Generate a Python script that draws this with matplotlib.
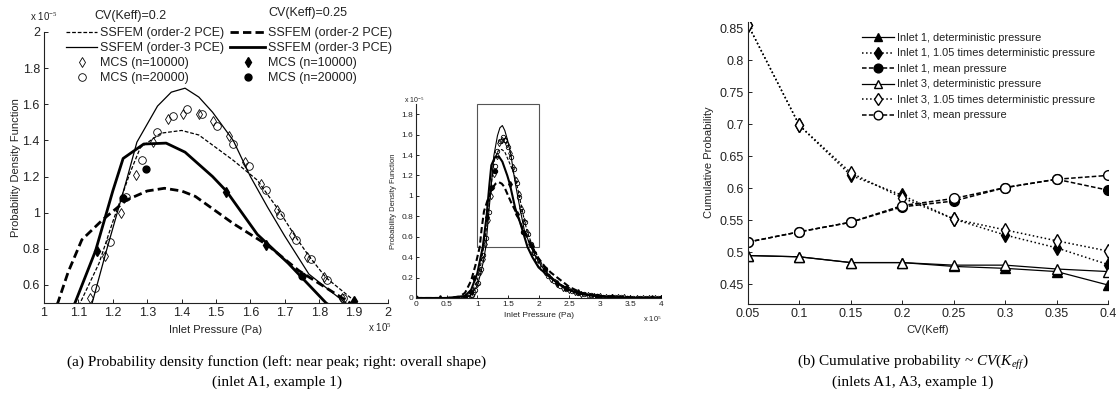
import numpy as np
import matplotlib
matplotlib.use("Agg")
import matplotlib.pyplot as plt
from matplotlib.patches import Rectangle
from matplotlib.lines import Line2D

plt.rcParams['font.family'] = ['Liberation Sans', 'DejaVu Sans']
plt.rcParams['mathtext.fontset'] = 'custom'
plt.rcParams['mathtext.rm'] = 'Liberation Serif'
plt.rcParams['mathtext.it'] = 'Liberation Serif:italic'

# ---- PDF data (pressure in 1e5 Pa, density in 1e-5) ----
# SSFEM, CV(Keff)=0.2
ord2_cv20_x = [0, 0.5, 0.8, 0.9, 1.0, 1.05, 1.1, 1.16, 1.2, 1.25, 1.28, 1.34, 1.4, 1.45, 1.55, 1.62,
               1.68, 1.73, 1.77, 1.82, 1.91, 2.0, 2.1, 2.2, 2.4, 2.6, 2.8, 3.0, 3.5, 4.0]
ord2_cv20_y = [0, 0, 0.01, 0.05, 0.17, 0.3, 0.48, 0.72, 0.95, 1.22, 1.36, 1.44, 1.455, 1.43, 1.29, 1.18,
               1.02, 0.87, 0.76, 0.64, 0.50, 0.39, 0.29, 0.21, 0.11, 0.05, 0.025, 0.012, 0.003, 0]
ord3_cv20_x = [0, 0.5, 0.8, 0.9, 1.0, 1.06, 1.1, 1.14, 1.18, 1.24, 1.27, 1.33, 1.37, 1.41, 1.45, 1.49,
               1.55, 1.6, 1.65, 1.7, 1.77, 1.87, 1.95, 2.05, 2.2, 2.4, 2.6, 2.8, 3.0, 3.5, 4.0]
ord3_cv20_y = [0, 0, 0.0, 0.03, 0.12, 0.25, 0.36, 0.5, 0.78, 1.18, 1.39, 1.59, 1.667, 1.689, 1.64, 1.556,
               1.40, 1.20, 1.03, 0.87, 0.66, 0.51, 0.41, 0.31, 0.2, 0.1, 0.05, 0.025, 0.012, 0.003, 0]
# SSFEM, CV(Keff)=0.25
ord2_cv25_x = [0, 0.5, 0.7, 0.8, 0.9, 0.97, 1.04, 1.07, 1.11, 1.17, 1.24, 1.3, 1.35, 1.4, 1.44, 1.55,
               1.65, 1.74, 1.89, 2.0, 2.1, 2.2, 2.35, 2.5, 2.7, 3.0, 3.5, 4.0]
ord2_cv25_y = [0, 0, 0.01, 0.05, 0.17, 0.32, 0.5, 0.67, 0.85, 0.96, 1.07, 1.12, 1.135, 1.12, 1.09, 0.94,
               0.82, 0.68, 0.5, 0.39, 0.31, 0.25, 0.18, 0.11, 0.05, 0.02, 0.005, 0]
ord3_cv25_x = [0, 0.5, 0.8, 0.9, 1.0, 1.09, 1.15, 1.2, 1.23, 1.29, 1.355, 1.41, 1.49, 1.53, 1.62, 1.71,
               1.82, 1.9, 2.0, 2.15, 2.3, 2.5, 2.7, 3.0, 3.5, 4.0]
ord3_cv25_y = [0, 0, 0.02, 0.08, 0.24, 0.5, 0.79, 1.12, 1.30, 1.38, 1.385, 1.335, 1.2, 1.12, 0.88, 0.72,
               0.5, 0.4, 0.3, 0.22, 0.15, 0.08, 0.04, 0.015, 0.003, 0]
# MCS, CV(Keff)=0.2
mcs10k_cv20_x = [0.85, 0.9, 0.95, 1.0, 1.045, 1.09, 1.133, 1.177, 1.223, 1.267, 1.316, 1.36, 1.404, 1.452,
                 1.49, 1.539, 1.585, 1.632, 1.678, 1.722, 1.765, 1.814, 1.867, 1.91, 1.96, 2.0, 2.1, 2.2,
                 2.3, 2.4, 2.5, 2.6, 2.7, 2.8, 2.9, 3.0, 3.1, 3.2, 3.3, 3.4, 3.5, 3.6, 3.7, 3.8, 3.9, 4.0]
mcs10k_cv20_y = [0.0, 0.02, 0.06, 0.14, 0.25, 0.38, 0.53, 0.76, 1.00, 1.21, 1.39, 1.517, 1.544, 1.544,
                 1.506, 1.422, 1.28, 1.156, 1.017, 0.878, 0.756, 0.644, 0.528, 0.45, 0.38, 0.33, 0.25, 0.19,
                 0.14, 0.10, 0.075, 0.055, 0.04, 0.03, 0.022, 0.016, 0.012, 0.009, 0.007, 0.005, 0.004,
                 0.003, 0.002, 0.002, 0.001, 0.001]
mcs20k_cv20_x = [0.86, 0.92, 0.97, 1.01, 1.06, 1.1, 1.148, 1.191, 1.238, 1.284, 1.328, 1.374, 1.417, 1.46,
                 1.504, 1.548, 1.595, 1.646, 1.687, 1.733, 1.777, 1.823, 1.87, 1.92, 1.97, 2.05, 2.15,
                 2.25, 2.35, 2.45, 2.55, 2.65, 2.75, 2.85, 2.95, 3.05, 3.15, 3.25, 3.35, 3.45, 3.55, 3.65,
                 3.75, 3.85, 3.95]
mcs20k_cv20_y = [0.0, 0.03, 0.08, 0.15, 0.28, 0.42, 0.583, 0.839, 1.089, 1.294, 1.444, 1.533, 1.572, 1.544,
                 1.478, 1.38, 1.26, 1.128, 0.989, 0.85, 0.744, 0.628, 0.53, 0.44, 0.37, 0.29, 0.22, 0.165,
                 0.12, 0.088, 0.065, 0.047, 0.035, 0.026, 0.019, 0.014, 0.01, 0.008, 0.006, 0.004, 0.003,
                 0.002, 0.002, 0.001, 0.001]
# MCS, CV(Keff)=0.25
mcs10k_cv25_x = [0, 0.39, 0.8, 0.95, 1.154, 1.53, 1.646, 1.9, 2.3, 2.65, 3.2, 3.85]
mcs10k_cv25_y = [0, 0, 0.005, 0.2, 0.79, 1.115, 0.822, 0.51, 0.15, 0.06, 0.01, 0.002]
mcs20k_cv25_x = [0, 0.67, 0.9, 1.229, 1.296, 1.75, 2.1, 2.45, 2.95, 3.45, 4.0]
mcs20k_cv25_y = [0, 0, 0.06, 1.08, 1.244, 0.65, 0.28, 0.1, 0.02, 0.004, 0]

# ---- cumulative probability data ----
cv = [0.05, 0.1, 0.15, 0.2, 0.25, 0.3, 0.35, 0.4]
in1_det = [0.495, 0.493, 0.484, 0.484, 0.478, 0.475, 0.470, 0.449]
in1_105 = [0.855, 0.698, 0.620, 0.589, 0.552, 0.527, 0.507, 0.481]
in1_mean = [0.516, 0.532, 0.547, 0.571, 0.580, 0.601, 0.614, 0.597]
in3_det = [0.495, 0.493, 0.484, 0.484, 0.480, 0.480, 0.474, 0.470]
in3_105 = [0.855, 0.698, 0.624, 0.585, 0.552, 0.535, 0.518, 0.502]
in3_mean = [0.516, 0.532, 0.547, 0.573, 0.584, 0.601, 0.614, 0.620]

W, H = 1116, 398
fig = plt.figure(figsize=(W / 100, H / 100), dpi=100)


def box(l, t, r, b):
    return [l / W, 1 - b / H, (r - l) / W, (b - t) / H]


def matlab_axes(ax, fs):
    for s in ['top', 'right']:
        ax.spines[s].set_visible(False)
    for s in ['left', 'bottom']:
        ax.spines[s].set_linewidth(0.8)
        ax.spines[s].set_color('#222222')
    ax.tick_params(direction='in', labelsize=fs, colors='#222222', length=3, width=0.7, pad=3)


def draw_pdf(ax, lw_thin, lw_thick, ms):
    ax.plot(ord2_cv20_x, ord2_cv20_y, 'k--', lw=lw_thin, dashes=(3, 1.5))
    ax.plot(ord3_cv20_x, ord3_cv20_y, 'k-', lw=lw_thin)
    ax.plot(mcs10k_cv20_x, mcs10k_cv20_y, 'kd', ms=ms, mfc='none', mew=0.6)
    ax.plot(mcs20k_cv20_x, mcs20k_cv20_y, 'ko', ms=ms, mfc='none', mew=0.6)
    ax.plot(ord2_cv25_x, ord2_cv25_y, 'k--', lw=lw_thick, dashes=(3, 1.5))
    ax.plot(ord3_cv25_x, ord3_cv25_y, 'k-', lw=lw_thick)
    ax.plot(mcs10k_cv25_x, mcs10k_cv25_y, 'kd', ms=ms * 0.9)
    ax.plot(mcs20k_cv25_x, mcs20k_cv25_y, 'ko', ms=ms * 0.9)


# ---- left: near peak ----
ax1 = fig.add_axes(box(44, 32, 388, 303))
draw_pdf(ax1, 0.9, 2.0, 5.5)
ax1.set_xlim(1, 2)
ax1.set_ylim(0.5, 2)
ax1.set_xticks(np.arange(1, 2.01, 0.1))
ax1.set_xticklabels(['1', '1.1', '1.2', '1.3', '1.4', '1.5', '1.6', '1.7', '1.8', '1.9', '2'])
ax1.set_yticks([0.6, 0.8, 1, 1.2, 1.4, 1.6, 1.8, 2])
ax1.set_yticklabels(['0.6', '0.8', '1', '1.2', '1.4', '1.6', '1.8', '2'])
matlab_axes(ax1, 9)
ax1.set_xlabel('Inlet Pressure (Pa)', fontsize=8, color='#222222', labelpad=4)
ax1.set_ylabel('Probability Density Function', fontsize=8, color='#222222', labelpad=1)
fig.text(30 / W, 1 - 17 / H, r'x 10$^{-5}$', fontsize=7, color='#222222', va='center')
fig.text(368 / W, 1 - 328 / H, r'x 10$^{5}$', fontsize=7, color='#222222', va='center')

h_cv20 = [Line2D([], [], color='k', ls='--', lw=0.9, dashes=(3, 1.5)),
          Line2D([], [], color='k', ls='-', lw=0.9),
          Line2D([], [], color='k', ls='none', marker='d', mfc='none', ms=5.5, mew=0.6),
          Line2D([], [], color='k', ls='none', marker='o', mfc='none', ms=5.5, mew=0.6)]
h_cv25 = [Line2D([], [], color='k', ls='--', lw=2.0, dashes=(3, 1.5)),
          Line2D([], [], color='k', ls='-', lw=2.0),
          Line2D([], [], color='k', ls='none', marker='d', ms=5),
          Line2D([], [], color='k', ls='none', marker='o', ms=5)]
labels = ['SSFEM (order-2 PCE)', 'SSFEM (order-3 PCE)', 'MCS (n=10000)', 'MCS (n=20000)']
leg1 = fig.legend(h_cv20, labels, loc='upper left', bbox_to_anchor=(66 / W, 1 - 27 / H),
                  frameon=False, fontsize=9, handlelength=2.5, handletextpad=0.2,
                  labelspacing=0.25, borderaxespad=0, borderpad=0)
leg2 = fig.legend(h_cv25, labels, loc='upper left', bbox_to_anchor=(230 / W, 1 - 27 / H),
                  frameon=False, fontsize=9, handlelength=2.8, handletextpad=0.2,
                  labelspacing=0.25, borderaxespad=0, borderpad=0)
for lg in (leg1, leg2):
    for t in lg.get_texts():
        t.set_color('#222222')
fig.text(130 / W, 1 - 16 / H, 'CV(Keff)=0.2', fontsize=9, color='#222222', ha='center', va='center')
fig.text(308 / W, 1 - 13 / H, 'CV(Keff)=0.25', fontsize=9, color='#222222', ha='center', va='center')

# ---- middle: overall shape ----
ax2 = fig.add_axes(box(416, 104, 661, 298))
draw_pdf(ax2, 0.8, 1.5, 3.2)
ax2.add_patch(Rectangle((1, 0.5), 1, 1.4, fill=False, ec='#555555', lw=0.8, clip_on=False))
ax2.set_xlim(0, 4)
ax2.set_ylim(0, 1.9)
ax2.set_xticks(np.arange(0, 4.01, 0.5))
ax2.set_xticklabels(['0', '0.5', '1', '1.5', '2', '2.5', '3', '3.5', '4'])
ax2.set_yticks(np.arange(0, 1.81, 0.2))
ax2.set_yticklabels(['0', '0.2', '0.4', '0.6', '0.8', '1', '1.2', '1.4', '1.6', '1.8'])
matlab_axes(ax2, 6)
ax2.tick_params(length=2, pad=2)
ax2.set_xlabel('Inlet Pressure (Pa)', fontsize=6, color='#222222', labelpad=3)
ax2.set_ylabel('Probability Density Function', fontsize=5.5, color='#222222', labelpad=3)
fig.text(404 / W, 1 - 100 / H, r'x 10$^{-5}$', fontsize=5, color='#222222', va='center')
fig.text(643 / W, 1 - 318 / H, r'x 10$^{5}$', fontsize=5.5, color='#222222', va='center')

# ---- right: cumulative probability ----
ax3 = fig.add_axes(box(748, 21.6, 1108, 303.6))
ax3.plot(cv, in1_det, 'k-^', lw=0.9, ms=7, label='Inlet 1, deterministic pressure')
ax3.plot(cv, in1_105, 'k:d', lw=1.1, ms=7, label='Inlet 1, 1.05 times deterministic pressure')
ax3.plot(cv, in1_mean, 'k--o', lw=1.1, ms=7, dashes=(3, 1.5), label='Inlet 1, mean pressure')
ax3.plot(cv, in3_det, 'k-^', lw=0.9, ms=7, mfc='white', label='Inlet 3, deterministic pressure')
ax3.plot(cv, in3_105, 'k:d', lw=1.1, ms=7, mfc='white', label='Inlet 3, 1.05 times deterministic pressure')
ax3.plot(cv, in3_mean, 'k--o', lw=1.1, ms=7, mfc='white', dashes=(3, 1.5), label='Inlet 3, mean pressure')
ax3.set_xlim(0.05, 0.4)
ax3.set_ylim(0.42, 0.86)
ax3.set_xticks(cv)
ax3.set_xticklabels(['0.05', '0.1', '0.15', '0.2', '0.25', '0.3', '0.35', '0.4'])
ax3.set_yticks([0.45, 0.5, 0.55, 0.6, 0.65, 0.7, 0.75, 0.8, 0.85])
ax3.set_yticklabels(['0.45', '0.5', '0.55', '0.6', '0.65', '0.7', '0.75', '0.8', '0.85'])
matlab_axes(ax3, 9)
ax3.set_xlabel('CV(Keff)', fontsize=8, color='#222222', labelpad=4)
ax3.set_ylabel('Cumulative Probability', fontsize=8, color='#222222', labelpad=4)
leg3 = ax3.legend(loc='upper left', bbox_to_anchor=(862 / W, 1 - 33 / H), bbox_transform=fig.transFigure,
                  frameon=False, fontsize=7.9, handlelength=2.9, handletextpad=0.25,
                  labelspacing=0.5, borderaxespad=0, borderpad=0, markerscale=0.9)
for t in leg3.get_texts():
    t.set_color('#222222')

# ---- captions ----
cap = dict(fontsize=11, family='Liberation Serif', ha='center', va='center', color='black')
fig.text(277 / W, 1 - 362 / H, '(a) Probability density function (left: near peak; right: overall shape)', **cap)
fig.text(277 / W, 1 - 382 / H, '(inlet A1, example 1)', **cap)
fig.text(913 / W, 1 - 362 / H, r'(b) Cumulative probability ~ $CV(K_{eff})$', **cap)
fig.text(913 / W, 1 - 382 / H, '(inlets A1, A3, example 1)', **cap)

fig.savefig('out.png', dpi=100)
